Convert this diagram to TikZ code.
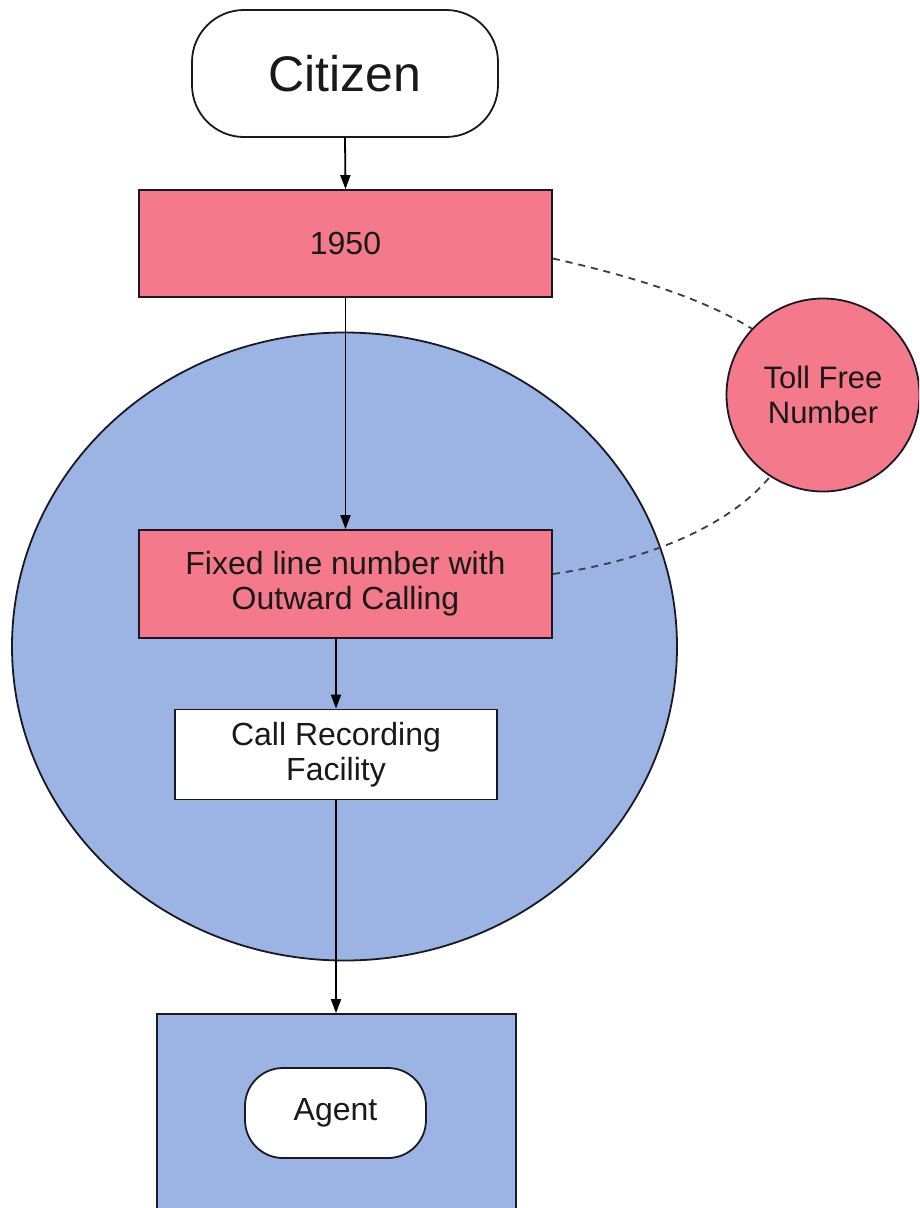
\documentclass[tikz,border=0pt]{standalone}
\usepackage{fontspec}
\setmainfont{Liberation Sans}
\usetikzlibrary{shapes.geometric,arrows.meta}
\definecolor{rosefill}{RGB}{244,122,139}
\definecolor{bluefill}{RGB}{156,180,228}
\definecolor{inkline}{RGB}{25,25,35}
\tikzset{
  box/.style={draw=inkline, line width=1.8pt, inner sep=0pt, align=center,
    font=\fontsize{32}{35}\selectfont, text=black!90},
  pinkbox/.style={box, fill=rosefill},
  whitebox/.style={box, fill=white},
  pill/.style={box, fill=white},
  flow/.style={draw=black, line width=1.8pt, -{Triangle[length=14pt,width=10pt]}},
  link/.style={draw=inkline!85, line width=1.8pt, dash pattern=on 7pt off 6pt},
}
\begin{document}
\begin{tikzpicture}[x=1pt, y={(0pt,-1pt)}]
\path[use as bounding box] (0,0) rectangle (919,1208);
\clip (0,0) rectangle (919,1208);
\fill[white] (0,0) rectangle (919,1208);

% organisation zone
\node[ellipse, draw=inkline, line width=1.8pt, fill=bluefill,
  minimum width=665pt, minimum height=628pt, inner sep=0pt] (zone) at (344.5,646.5) {};

% agent desk
\node[draw=inkline, line width=1.8pt, fill=bluefill, minimum width=359pt,
  minimum height=216pt, inner sep=0pt] (desk) at (336.5,1122) {};

% nodes
\node[pill, rounded corners=52pt, minimum width=306pt, minimum height=127pt,
  font=\fontsize{50}{56}\selectfont] (citizen) at (345,73.5) {Citizen};
\node[pinkbox, minimum width=413pt, minimum height=107pt] (helpline) at (345.5,243.5) {1950};
\node[pinkbox, minimum width=413pt, minimum height=108pt] (fixed) at (345.5,584) {Fixed line number with\\Outward Calling};
\node[whitebox, minimum width=322pt, minimum height=90pt] (record) at (336,754.5) {Call Recording\\Facility};
\node[pill, rounded corners=38pt, minimum width=181pt, minimum height=90pt] (agent) at (335.5,1113) {Agent};
\node[circle, draw=inkline, line width=1.8pt, fill=rosefill, minimum size=193pt,
  inner sep=0pt, align=center, font=\fontsize{31}{35}\selectfont, text=black!90] (toll) at (823,395) {Toll Free\\Number};

% flow
\draw[flow] (citizen.south) -- (helpline.north);
\draw[flow] (helpline.south) -- (fixed.north);
\draw[flow] (fixed.south -| record.north) -- (record.north);
\draw[flow] (record.south) -- (desk.north -| record.south);

% toll free links
\draw[link] (helpline.east) ++(0,15) .. controls (640,278) and (705,300) .. (toll.137);
\draw[link] (fixed.east) ++(0,-10) .. controls (650,560) and (730,525) .. (toll.237);
\end{tikzpicture}
\end{document}
